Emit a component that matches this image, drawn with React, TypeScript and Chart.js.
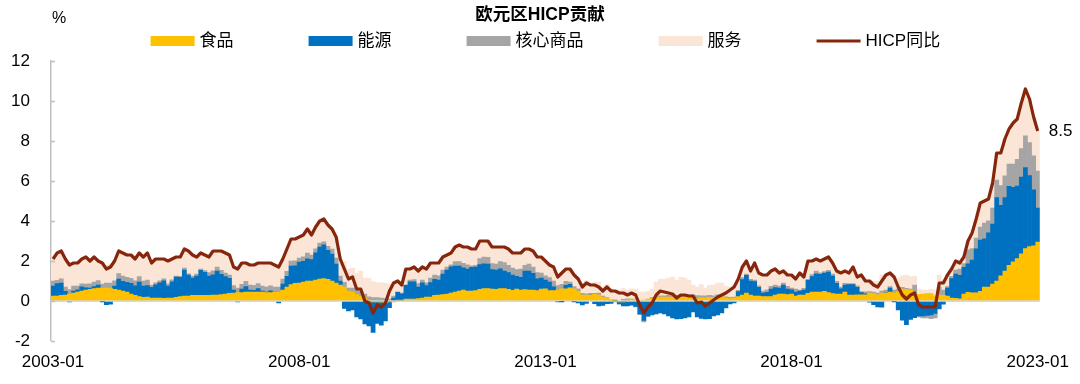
import React, { useEffect, useRef } from 'react';
import { Chart, registerables } from 'chart.js';

Chart.register(...registerables);

const FONT = '"Liberation Sans", Arial, "Noto Sans CJK SC", sans-serif';

const TITLE = '欧元区HICP贡献';
const UNIT = '%';
const NAME_FOOD = '食品';
const NAME_ENERGY = '能源';
const NAME_CORE = '核心商品';
const NAME_SERVICES = '服务';
const NAME_HICP = 'HICP同比';

const xTickLabels = ['2003-01', '2008-01', '2013-01', '2018-01', '2023-01'];
const yMin = -2;
const yMax = 12;
const yStep = 2;

// monthly categories 2003-01 .. 2023-01
const months: string[] = [];
for (let y = 2003; y <= 2023; y++) {
  for (let m = 1; m <= 12; m++) {
    if (y === 2023 && m > 1) break;
    months.push(`${y}-${m < 10 ? '0' + m : m}`);
  }
}

const hicp = [
  2.1, 2.4, 2.5, 2.1, 1.8, 1.9, 1.9, 2.1, 2.2, 2.0, 2.2, 2.0,
  1.9, 1.6, 1.7, 2.0, 2.5, 2.4, 2.3, 2.3, 2.1, 2.4, 2.2, 2.4,
  1.9, 2.1, 2.1, 2.1, 2.0, 2.1, 2.2, 2.2, 2.6, 2.5, 2.3, 2.2,
  2.4, 2.3, 2.2, 2.5, 2.5, 2.5, 2.4, 2.3, 1.7, 1.6, 1.9, 1.9,
  1.8, 1.8, 1.9, 1.9, 1.9, 1.9, 1.8, 1.7, 2.1, 2.6, 3.1, 3.1,
  3.2, 3.3, 3.6, 3.3, 3.7, 4.0, 4.1, 3.8, 3.6, 3.2, 2.1, 1.6,
  1.1, 1.2, 0.6, 0.6, 0.0, -0.1, -0.6, -0.2, -0.3, -0.1, 0.5, 0.9,
  1.0, 0.8, 1.6, 1.6, 1.7, 1.5, 1.7, 1.6, 1.9, 1.9, 1.9, 2.2,
  2.3, 2.4, 2.7, 2.8, 2.7, 2.7, 2.6, 2.6, 3.0, 3.0, 3.0, 2.7,
  2.7, 2.7, 2.7, 2.6, 2.4, 2.4, 2.4, 2.6, 2.6, 2.5, 2.2, 2.2,
  2.0, 1.8, 1.7, 1.2, 1.4, 1.6, 1.6, 1.3, 1.1, 0.7, 0.9, 0.8,
  0.8, 0.7, 0.5, 0.7, 0.5, 0.5, 0.4, 0.4, 0.3, 0.4, 0.3, -0.2,
  -0.6, -0.3, -0.1, 0.3, 0.5, 0.45, 0.4, 0.35, 0.15, 0.3, 0.3, 0.25,
  0.25, -0.1, -0.05, -0.25, -0.1, 0.05, 0.2, 0.3, 0.4, 0.55, 0.7, 1.1,
  1.7, 2.0, 1.5, 1.9, 1.4, 1.3, 1.3, 1.5, 1.6, 1.4, 1.5, 1.3,
  1.3, 1.1, 1.4, 1.2, 2.0, 2.0, 2.1, 2.0, 2.1, 2.2, 1.9, 1.5,
  1.4, 1.5, 1.4, 1.7, 1.2, 1.3, 1.0, 1.0, 0.8, 0.7, 1.0, 1.3,
  1.4, 1.2, 0.7, 0.3, 0.1, 0.3, 0.4, -0.2, -0.3, -0.3, -0.3, -0.3,
  0.9, 0.9, 1.3, 1.6, 2.0, 1.9, 2.2, 3.0, 3.4, 4.1, 4.9, 5.0,
  5.1, 5.9, 7.4, 7.4, 8.1, 8.6, 8.9, 9.1, 9.9, 10.6, 10.1, 9.2,
  8.5,
];

const food = [
  0.25, 0.25, 0.28, 0.3, 0.35, 0.4, 0.45, 0.5, 0.55, 0.58, 0.62, 0.65,
  0.65, 0.65, 0.62, 0.58, 0.55, 0.5, 0.45, 0.35, 0.28, 0.22, 0.18, 0.2,
  0.15, 0.15, 0.15, 0.13, 0.15, 0.15, 0.18, 0.22, 0.25, 0.25, 0.28, 0.28,
  0.28, 0.28, 0.28, 0.3, 0.3, 0.32, 0.35, 0.38, 0.4, 0.42, 0.42, 0.45,
  0.45, 0.45, 0.45, 0.45, 0.42, 0.42, 0.45, 0.45, 0.55, 0.7, 0.82, 0.88,
  0.9, 0.95, 1.0, 1.0, 1.05, 1.1, 1.12, 1.08, 1.0, 0.9, 0.8, 0.7,
  0.5, 0.45, 0.32, 0.25, 0.14, 0.04, -0.02, -0.02, -0.06, -0.1, -0.03, -0.03,
  0.05, 0.05, 0.1, 0.1, 0.1, 0.12, 0.15, 0.2, 0.2, 0.28, 0.3, 0.32,
  0.35, 0.4, 0.45, 0.5, 0.55, 0.5, 0.5, 0.52, 0.58, 0.62, 0.62, 0.6,
  0.58, 0.62, 0.62, 0.58, 0.53, 0.6, 0.55, 0.57, 0.55, 0.55, 0.52, 0.6,
  0.61, 0.52, 0.52, 0.55, 0.61, 0.61, 0.66, 0.61, 0.5, 0.3, 0.3, 0.3,
  0.33, 0.29, 0.2, 0.14, 0.04, 0.04, -0.04, -0.04, 0.06, 0.1, 0.1, 0.0,
  0.05, 0.1, 0.15, 0.18, 0.2, 0.2, 0.2, 0.2, 0.2, 0.2, 0.2, 0.18,
  0.16, 0.12, 0.16, 0.16, 0.18, 0.18, 0.25, 0.25, 0.15, 0.12, 0.14, 0.22,
  0.3, 0.4, 0.3, 0.25, 0.25, 0.22, 0.22, 0.22, 0.3, 0.35, 0.35, 0.32,
  0.35, 0.25, 0.3, 0.3, 0.38, 0.45, 0.45, 0.45, 0.48, 0.42, 0.37, 0.35,
  0.35, 0.45, 0.3, 0.3, 0.31, 0.31, 0.31, 0.39, 0.37, 0.31, 0.39, 0.39,
  0.45, 0.41, 0.47, 0.6, 0.58, 0.55, 0.38, 0.33, 0.35, 0.37, 0.37, 0.26,
  0.3, 0.28, 0.24, 0.15, 0.13, 0.11, 0.35, 0.43, 0.41, 0.41, 0.48, 0.69,
  0.7, 0.84, 1.0, 1.26, 1.5, 1.78, 1.96, 2.12, 2.36, 2.62, 2.72, 2.76,
  2.95,
];

const energy = [
  0.49, 0.62, 0.61, 0.18, -0.05, 0.09, 0.11, 0.21, 0.11, 0.06, 0.1, 0.15,
  -0.03, -0.18, -0.16, 0.16, 0.55, 0.48, 0.48, 0.53, 0.48, 0.73, 0.57, 0.57,
  0.53, 0.66, 0.76, 0.88, 0.59, 0.81, 1.01, 0.96, 1.29, 1.04, 0.86, 0.96,
  1.25, 1.15, 0.97, 1.01, 1.19, 1.01, 0.87, 0.75, 0.14, -0.05, 0.18, 0.27,
  0.09, 0.08, 0.17, 0.04, 0.03, 0.09, 0.0, -0.09, 0.3, 0.53, 0.93, 0.88,
  1.05, 1.03, 1.11, 1.07, 1.36, 1.59, 1.69, 1.45, 1.34, 0.95, 0.19, -0.37,
  -0.5, -0.45, -0.8, -0.9, -1.15, -1.25, -1.55, -1.1, -1.15, -0.9, -0.3, 0.15,
  0.38, 0.31, 0.68, 0.86, 0.86, 0.58, 0.76, 0.57, 0.72, 0.8, 0.74, 1.03,
  1.2, 1.31, 1.3, 1.25, 1.11, 1.09, 1.18, 1.18, 1.24, 1.24, 1.23, 0.97,
  0.96, 0.99, 0.88, 0.84, 0.76, 0.63, 0.63, 0.93, 0.95, 0.83, 0.59, 0.54,
  0.43, 0.43, 0.19, -0.04, -0.02, 0.17, 0.17, -0.03, -0.1, -0.19, -0.12, 0.0,
  -0.13, -0.24, -0.22, -0.13, -0.12, 0.01, -0.1, -0.21, -0.24, -0.21, -0.27, -0.66,
  -0.97, -0.75, -0.7, -0.65, -0.6, -0.65, -0.75, -0.85, -0.9, -0.88, -0.85, -0.8,
  -0.55, -0.8, -0.87, -0.9, -0.88, -0.75, -0.7, -0.6, -0.35, -0.15, -0.1, 0.25,
  0.77, 0.88, 0.7, 0.72, 0.43, 0.18, 0.21, 0.38, 0.37, 0.29, 0.45, 0.28,
  0.21, 0.2, 0.19, 0.25, 0.65, 0.77, 0.91, 0.88, 0.91, 1.03, 0.87, 0.53,
  0.26, 0.35, 0.52, 0.52, 0.37, 0.11, 0.05, -0.06, -0.18, -0.3, -0.31, 0.02,
  0.19, -0.03, -0.45, -0.96, -1.18, -0.92, -0.83, -0.75, -0.75, -0.72, -0.7, -0.62,
  -0.39, -0.16, 0.4, 0.97, 1.22, 1.17, 1.33, 1.43, 1.64, 2.2, 2.56, 2.42,
  2.71, 3.0, 4.17, 3.52, 3.67, 3.95, 3.72, 3.63, 3.83, 4.05, 3.55, 2.8,
  1.7,
];

const coreGoods = [
  0.25, 0.16, 0.22, 0.22, 0.22, 0.25, 0.18, 0.15, 0.18, 0.22, 0.22, 0.22,
  0.2, 0.25, 0.27, 0.27, 0.27, 0.27, 0.25, 0.25, 0.25, 0.27, 0.25, 0.28,
  0.12, 0.1, 0.1, 0.1, 0.12, 0.1, 0.05, 0.05, 0.1, 0.07, 0.1, 0.1,
  0.06, 0.09, 0.17, 0.2, 0.2, 0.2, 0.17, 0.17, 0.23, 0.23, 0.23, 0.26,
  0.25, 0.25, 0.25, 0.25, 0.25, 0.25, 0.25, 0.25, 0.25, 0.25, 0.25, 0.25,
  0.2, 0.23, 0.29, 0.23, 0.2, 0.2, 0.15, 0.2, 0.26, 0.29, 0.26, 0.23,
  0.15, 0.2, 0.23, 0.23, 0.2, 0.17, 0.17, 0.17, 0.14, 0.12, 0.09, 0.09,
  0.03, 0.03, 0.03, 0.08, 0.11, 0.17, 0.14, 0.14, 0.22, 0.22, 0.22, 0.2,
  0.14, 0.1, 0.22, 0.22, 0.22, 0.22, 0.08, 0.08, 0.3, 0.33, 0.33, 0.3,
  0.31, 0.36, 0.42, 0.36, 0.36, 0.34, 0.42, 0.28, 0.34, 0.31, 0.31, 0.25,
  0.22, 0.22, 0.28, 0.22, 0.22, 0.2, 0.11, 0.11, 0.11, 0.08, 0.06, 0.08,
  0.05, 0.1, 0.05, 0.03, 0.0, -0.03, 0.0, 0.08, 0.05, 0.0, -0.03, 0.0,
  -0.08, -0.03, 0.03, 0.05, 0.06, 0.06, 0.08, 0.1, 0.08, 0.1, 0.1, 0.1,
  0.15, 0.15, 0.1, 0.1, 0.1, 0.08, 0.06, 0.06, 0.06, 0.06, 0.06, 0.06,
  0.1, 0.06, 0.08, 0.08, 0.08, 0.1, 0.13, 0.13, 0.13, 0.1, 0.1, 0.13,
  0.08, 0.15, 0.05, 0.08, 0.05, 0.1, 0.13, 0.08, 0.08, 0.08, 0.1, 0.1,
  0.08, 0.08, 0.05, 0.05, 0.08, 0.05, 0.1, 0.08, 0.08, 0.08, 0.1, 0.13,
  0.08, 0.13, 0.13, 0.08, 0.05, 0.05, 0.42, -0.05, -0.1, -0.12, -0.18, -0.22,
  0.4, 0.27, 0.08, 0.11, 0.19, 0.32, 0.19, 0.7, 0.57, 0.54, 0.65, 0.78,
  0.6, 0.81, 0.88, 0.99, 1.09, 1.12, 1.17, 1.33, 1.43, 1.59, 1.65, 1.7,
  1.85,
];

const services = [
  1.11, 1.37, 1.39, 1.4, 1.28, 1.16, 1.16, 1.24, 1.36, 1.14, 1.26, 0.98,
  1.08, 0.88, 0.97, 0.99, 1.13, 1.15, 1.12, 1.17, 1.09, 1.18, 1.2, 1.35,
  1.1, 1.19, 1.09, 0.99, 1.14, 1.04, 0.96, 0.97, 0.96, 1.14, 1.06, 0.86,
  0.81, 0.78, 0.78, 0.99, 0.81, 0.97, 1.01, 1.0, 0.93, 1.0, 1.07, 0.92,
  1.01, 1.02, 1.03, 1.16, 1.2, 1.14, 1.1, 1.09, 1.0, 1.12, 1.1, 1.09,
  1.05, 1.09, 1.2, 1.0, 1.09, 1.11, 1.14, 1.07, 1.0, 1.06, 0.85, 1.04,
  0.95, 1.0, 0.85, 1.02, 0.81, 0.94, 0.8, 0.75, 0.77, 0.78, 0.74, 0.69,
  0.54, 0.41, 0.79, 0.56, 0.63, 0.63, 0.65, 0.69, 0.76, 0.6, 0.64, 0.65,
  0.61, 0.59, 0.73, 0.83, 0.82, 0.89, 0.84, 0.82, 0.88, 0.81, 0.82, 0.83,
  0.85, 0.73, 0.78, 0.82, 0.75, 0.83, 0.8, 0.82, 0.76, 0.81, 0.78, 0.81,
  0.74, 0.63, 0.71, 0.47, 0.59, 0.62, 0.66, 0.61, 0.59, 0.51, 0.66, 0.42,
  0.55, 0.55, 0.47, 0.66, 0.58, 0.48, 0.54, 0.57, 0.43, 0.51, 0.5, 0.46,
  0.4, 0.38, 0.42, 0.72, 0.84, 0.84, 0.87, 0.9, 0.77, 0.88, 0.85, 0.77,
  0.49, 0.43, 0.56, 0.39, 0.5, 0.54, 0.59, 0.59, 0.54, 0.52, 0.6, 0.57,
  0.53, 0.66, 0.42, 0.85, 0.64, 0.8, 0.74, 0.77, 0.8, 0.66, 0.6, 0.57,
  0.66, 0.5, 0.86, 0.57, 0.92, 0.68, 0.61, 0.59, 0.63, 0.67, 0.56, 0.52,
  0.71, 0.62, 0.53, 0.83, 0.44, 0.83, 0.54, 0.59, 0.53, 0.61, 0.82, 0.76,
  0.68, 0.69, 0.55, 0.58, 0.65, 0.62, 0.43, 0.27, 0.2, 0.17, 0.21, 0.28,
  0.59, 0.51, 0.58, 0.37, 0.46, 0.3, 0.33, 0.44, 0.78, 0.95, 1.21, 1.11,
  1.09, 1.25, 1.35, 1.63, 1.84, 1.75, 2.05, 2.02, 2.28, 2.34, 2.18, 1.94,
  2.0,
];

const COLORS = {
  food: '#FFC000',
  energy: '#0070C0',
  core: '#A5A5A5',
  services: '#FBE5D6',
  line: '#86260C',
  axis: '#BFBFBF',
  zero: '#D9D9D9',
  text: '#000000',
};

const overlayPlugin = {
  id: 'overlay',
  afterDraw(chart: any) {
    const ctx = chart.ctx as CanvasRenderingContext2D;
    const area = chart.chartArea;
    const yScale = chart.scales.y;
    const xScale = chart.scales.x;
    ctx.save();

    // inward tick marks on the y axis
    ctx.strokeStyle = COLORS.axis;
    ctx.lineWidth = 1.5;
    yScale.ticks.forEach((t: any) => {
      const py = Math.round(yScale.getPixelForValue(t.value)) + 0.5;
      ctx.beginPath();
      ctx.moveTo(area.left, py);
      ctx.lineTo(area.left + 4, py);
      ctx.stroke();
    });

    // title, centred on the canvas
    ctx.fillStyle = COLORS.text;
    ctx.textBaseline = 'middle';
    ctx.textAlign = 'center';
    ctx.font = `bold 17.5px ${FONT}`;
    ctx.fillText(TITLE, chart.width / 2, 15);

    // unit label
    ctx.textAlign = 'left';
    ctx.font = `16px ${FONT}`;
    ctx.fillText(UNIT, area.left + 1, 19);

    // legend
    const legendY = 41;
    const boxW = 44;
    const boxH = 10;
    const gapText = 5;
    const gapItem = 75;
    ctx.font = `17px ${FONT}`;
    const items = chart.data.datasets.map((ds: any) => ({
      text: ds.label as string,
      color: ds.type === 'line' ? ds.borderColor : ds.backgroundColor,
      isLine: ds.type === 'line',
      w: boxW + gapText + ctx.measureText(ds.label).width,
    }));
    const total = items.reduce((s: number, it: any) => s + it.w, 0) + gapItem * (items.length - 1);
    let cx = (area.left + area.right) / 2 - total / 2;
    items.forEach((it: any) => {
      if (it.isLine) {
        ctx.strokeStyle = it.color;
        ctx.lineWidth = 3.2;
        ctx.beginPath();
        ctx.moveTo(cx, legendY);
        ctx.lineTo(cx + boxW, legendY);
        ctx.stroke();
      } else {
        ctx.fillStyle = it.color;
        ctx.fillRect(cx, legendY - boxH / 2, boxW, boxH);
      }
      ctx.fillStyle = COLORS.text;
      ctx.fillText(it.text, cx + boxW + gapText, legendY);
      cx += it.w + gapItem;
    });

    // last value label
    const last = hicp.length - 1;
    const px = xScale.getPixelForValue(last);
    const py = yScale.getPixelForValue(hicp[last]);
    ctx.font = `17px ${FONT}`;
    ctx.fillStyle = COLORS.text;
    ctx.fillText(hicp[last].toFixed(1), px + 11, py);

    ctx.restore();
  },
};

export default function App() {
  const canvasRef = useRef<HTMLCanvasElement | null>(null);

  useEffect(() => {
    if (!canvasRef.current) return;
    const chart = new Chart(canvasRef.current, {
      type: 'bar',
      data: {
        labels: months,
        datasets: [
          { type: 'bar', label: NAME_FOOD, data: food, backgroundColor: COLORS.food, stack: 'c', order: 1, borderWidth: 0 },
          { type: 'bar', label: NAME_ENERGY, data: energy, backgroundColor: COLORS.energy, stack: 'c', order: 1, borderWidth: 0 },
          { type: 'bar', label: NAME_CORE, data: coreGoods, backgroundColor: COLORS.core, stack: 'c', order: 1, borderWidth: 0 },
          { type: 'bar', label: NAME_SERVICES, data: services, backgroundColor: COLORS.services, stack: 'c', order: 1, borderWidth: 0 },
          {
            type: 'line',
            label: NAME_HICP,
            data: hicp,
            borderColor: COLORS.line,
            backgroundColor: COLORS.line,
            borderWidth: 3.2,
            pointRadius: 0,
            tension: 0,
            stack: 'line',
            order: 0,
            borderJoinStyle: 'round',
          } as any,
        ],
      },
      options: {
        responsive: false,
        animation: false,
        devicePixelRatio: 1,
        layout: { padding: { left: 0, right: 38.5, top: 61, bottom: 0 } },
        datasets: { bar: { barPercentage: 1, categoryPercentage: 1 } },
        plugins: {
          legend: { display: false },
          tooltip: { enabled: false },
          title: { display: false },
        },
        scales: {
          x: {
            stacked: true,
            offset: true,
            grid: { display: false, drawTicks: false },
            border: { display: false },
            ticks: {
              autoSkip: false,
              maxRotation: 0,
              minRotation: 0,
              padding: 11,
              color: COLORS.text,
              font: { family: FONT, size: 17 },
              callback: (_v: any, i: number) => (xTickLabels.includes(months[i]) ? months[i] : ''),
            },
            afterFit: (scale: any) => {
              scale.height = 43;
            },
          },
          y: {
            stacked: true,
            min: yMin,
            max: yMax,
            ticks: {
              stepSize: yStep,
              padding: 21,
              color: COLORS.text,
              font: { family: FONT, size: 17 },
            },
            grid: {
              drawTicks: false,
              color: (c: any) => (c.tick && c.tick.value === 0 ? COLORS.zero : 'rgba(0,0,0,0)'),
              lineWidth: (c: any) => (c.tick && c.tick.value === 0 ? 2 : 0),
            },
            border: { display: true, color: COLORS.axis, width: 1.5 },
            afterFit: (scale: any) => {
              scale.width = 51;
            },
          },
        },
      },
      plugins: [overlayPlugin],
    } as any);
    return () => chart.destroy();
  }, []);

  return (
    <div style={{ position: 'absolute', left: 0, top: 0, width: 1080, height: 384, background: '#fff' }}>
      <canvas ref={canvasRef} width={1080} height={384} style={{ display: 'block' }} />
    </div>
  );
}
